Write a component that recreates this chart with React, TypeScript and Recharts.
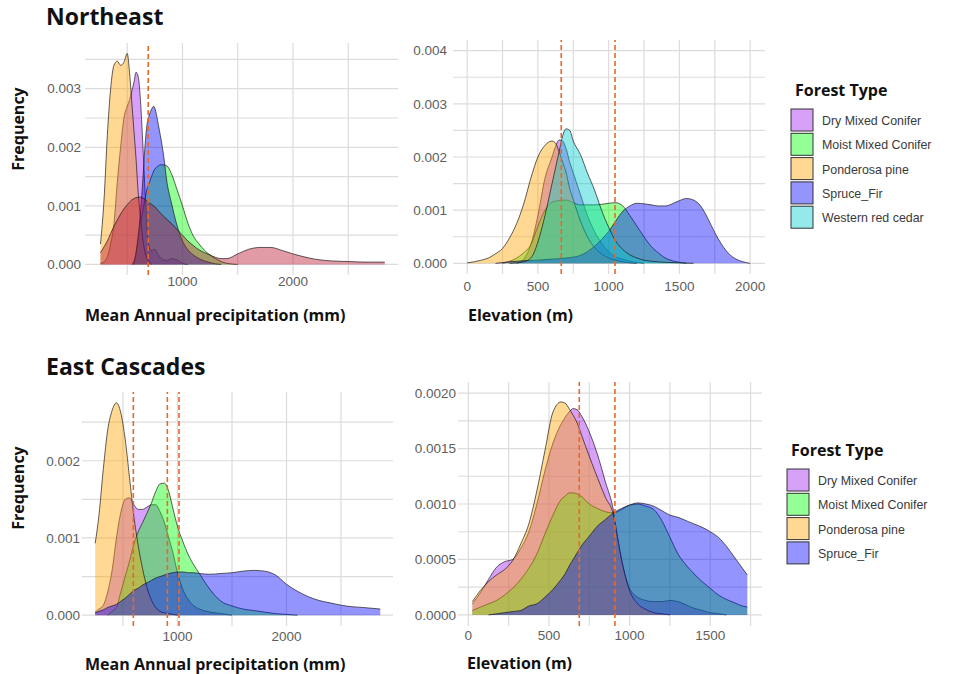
import React from "react";
import { ComposedChart, Area, XAxis, YAxis, CartesianGrid, ReferenceLine } from "recharts";

// forest types, legend order (also the drawing order)
const forestTypes = ["Dry Mixed Conifer", "Moist Mixed Conifer", "Ponderosa pine", "Spruce_Fir", "Western red cedar"];
const typeColors = ["#a020f0", "#00ff00", "#ffa500", "#0000ff", "#00cdcd"];
const cedarPrecipColor = "#b5102a";

type Pt = [number, number];

// ---- Northeast, mean annual precipitation (mm) ----
const neP_dry: Pt[] = [[258, 0.00002], [290, 0.00004], [320, 0.00013], [350, 0.00035], [380, 0.0007], [410, 0.0014], [440, 0.002], [470, 0.0025], [500, 0.0027], [520, 0.0028], [540, 0.00295], [560, 0.0031], [580, 0.00328], [600, 0.0032], [620, 0.0028], [640, 0.0021], [660, 0.0013], [680, 0.0006], [700, 0.0003], [720, 0.00023], [740, 0.00026], [760, 0.00024], [780, 0.00017], [800, 0.00012], [830, 0.00008], [860, 0.00007], [900, 0.0001], [950, 0.00008], [1000, 0.00002], [1050, 0]];
const neP_moist: Pt[] = [[560, 0], [580, 0.0002], [600, 0.00045], [620, 0.0007], [640, 0.0009], [660, 0.0011], [680, 0.0013], [700, 0.0014], [720, 0.0015], [740, 0.0016], [760, 0.00165], [780, 0.00168], [800, 0.0017], [830, 0.0017], [860, 0.00168], [900, 0.00155], [950, 0.00128], [1000, 0.001], [1050, 0.0007], [1100, 0.00048], [1150, 0.00035], [1200, 0.00024], [1250, 0.00016], [1300, 0.0001], [1350, 0.00005], [1400, 0.00002], [1500, 0]];
const neP_pond: Pt[] = [[258, 0.00035], [290, 0.0011], [320, 0.0022], [350, 0.003], [380, 0.0034], [410, 0.00347], [440, 0.0034], [470, 0.00345], [500, 0.0036], [520, 0.0033], [540, 0.0028], [560, 0.0023], [580, 0.0018], [600, 0.0012], [620, 0.0008], [640, 0.00045], [660, 0.00022], [680, 0.0001], [700, 0.00004], [720, 0]];
const neP_spruce: Pt[] = [[540, 0], [560, 0.00005], [580, 0.0002], [600, 0.0005], [620, 0.0009], [640, 0.0014], [660, 0.002], [680, 0.0024], [700, 0.00255], [720, 0.00265], [740, 0.0027], [760, 0.0026], [780, 0.0024], [800, 0.0022], [830, 0.00185], [860, 0.0014], [900, 0.00105], [950, 0.00067], [1000, 0.0004], [1050, 0.00025], [1100, 0.00016], [1150, 0.0001], [1200, 0.00006], [1250, 0.00003], [1300, 0.00001], [1350, 0]];
const neP_cedar: Pt[] = [[258, 0.0002], [290, 0.0003], [320, 0.0004], [350, 0.00053], [380, 0.00065], [410, 0.00076], [440, 0.00086], [470, 0.00095], [500, 0.00102], [540, 0.0011], [580, 0.00114], [620, 0.00115], [660, 0.00111], [700, 0.00105], [740, 0.001], [780, 0.00092], [830, 0.00082], [900, 0.0007], [950, 0.0006], [1000, 0.0005], [1050, 0.0004], [1100, 0.00032], [1150, 0.00025], [1200, 0.0002], [1250, 0.00016], [1300, 0.00012], [1350, 0.0001], [1400, 0.0001], [1500, 0.00018], [1600, 0.00026], [1700, 0.00029], [1800, 0.00029], [1900, 0.00024], [2000, 0.00018], [2100, 0.00013], [2200, 0.00009], [2350, 0.00006], [2500, 0.00005], [2650, 0.00004], [2830, 0.00004]];

// ---- Northeast, elevation (m) ----
const neE_dry: Pt[] = [[350, 0], [400, 0.00008], [450, 0.00035], [500, 0.0009], [550, 0.0016], [600, 0.002], [625, 0.0022], [650, 0.00232], [675, 0.0023], [700, 0.00215], [725, 0.0019], [750, 0.0017], [800, 0.0013], [850, 0.0009], [900, 0.0006], [950, 0.00038], [1000, 0.00022], [1050, 0.00012], [1100, 0.00008], [1150, 0.00004], [1200, 0.00002], [1250, 0]];
const neE_moist: Pt[] = [[250, 0], [300, 0.00004], [350, 0.0001], [400, 0.0002], [450, 0.00035], [500, 0.0007], [550, 0.001], [600, 0.00115], [650, 0.00118], [700, 0.00119], [750, 0.00114], [800, 0.0011], [850, 0.0011], [900, 0.0011], [950, 0.00111], [1000, 0.00113], [1050, 0.00114], [1100, 0.00108], [1150, 0.0009], [1200, 0.0007], [1250, 0.0005], [1300, 0.00032], [1350, 0.0002], [1400, 0.0001], [1450, 0.00005], [1500, 0.00002], [1550, 0]];
const neE_pond: Pt[] = [[0, 0.00001], [50, 0.00003], [100, 0.00006], [150, 0.0001], [200, 0.00018], [250, 0.00028], [300, 0.00048], [350, 0.00075], [400, 0.00112], [450, 0.0016], [500, 0.002], [550, 0.00222], [600, 0.0023], [625, 0.00226], [650, 0.0021], [675, 0.0019], [700, 0.0017], [725, 0.0014], [750, 0.0012], [800, 0.0008], [850, 0.0005], [900, 0.0003], [950, 0.00018], [1000, 0.0001], [1050, 0.00006], [1100, 0.00003], [1150, 0.00001], [1200, 0]];
const neE_spruce: Pt[] = [[200, 0], [300, 0.00003], [400, 0.00005], [500, 0.00006], [600, 0.00008], [700, 0.0001], [800, 0.00015], [850, 0.00022], [900, 0.00032], [950, 0.00045], [1000, 0.0006], [1050, 0.0008], [1100, 0.00098], [1150, 0.00108], [1200, 0.00113], [1250, 0.00112], [1300, 0.0011], [1350, 0.00108], [1400, 0.00108], [1450, 0.00112], [1500, 0.00118], [1550, 0.00122], [1600, 0.00119], [1650, 0.00108], [1700, 0.00085], [1750, 0.00058], [1800, 0.00035], [1850, 0.00018], [1900, 0.00008], [1950, 0.00003], [2000, 0]];
const neE_cedar: Pt[] = [[300, 0], [400, 0.00003], [450, 0.0001], [500, 0.0004], [550, 0.0009], [600, 0.0015], [625, 0.0018], [650, 0.0021], [675, 0.0024], [700, 0.00253], [725, 0.0025], [750, 0.0023], [800, 0.00205], [850, 0.0017], [900, 0.00138], [950, 0.001], [1000, 0.00068], [1050, 0.00042], [1100, 0.00026], [1150, 0.00016], [1200, 0.0001], [1250, 0.00006], [1300, 0.00004], [1400, 0.00002], [1500, 0.00001], [1600, 0]];

// ---- East Cascades, mean annual precipitation (mm) ----
const ecP_dry: Pt[] = [[245, 0.00004], [280, 0.00008], [320, 0.00013], [360, 0.0003], [400, 0.00058], [440, 0.001], [480, 0.00133], [520, 0.0015], [560, 0.00152], [600, 0.00143], [640, 0.00137], [680, 0.00137], [720, 0.0014], [760, 0.00143], [800, 0.00143], [840, 0.00134], [880, 0.0012], [920, 0.001], [960, 0.0008], [1000, 0.00055], [1050, 0.00033], [1100, 0.0002], [1150, 0.00012], [1200, 0.00008], [1300, 0.00004], [1400, 0.00002], [1500, 0]];
const ecP_moist: Pt[] = [[360, 0], [400, 0.00005], [440, 0.0001], [480, 0.0003], [520, 0.0005], [560, 0.0007], [600, 0.00092], [640, 0.00108], [680, 0.0012], [720, 0.00132], [760, 0.00145], [800, 0.0016], [840, 0.0017], [880, 0.00171], [920, 0.0016], [960, 0.00137], [1000, 0.00115], [1050, 0.00095], [1100, 0.00078], [1150, 0.00065], [1200, 0.00054], [1300, 0.00033], [1400, 0.00018], [1500, 0.00012], [1600, 0.00008], [1700, 0.00006], [1800, 0.00004], [1900, 0.00002], [2000, 0.00001], [2100, 0]];
const ecP_pond: Pt[] = [[245, 0.00093], [280, 0.0013], [320, 0.0019], [360, 0.0024], [400, 0.00265], [440, 0.00275], [480, 0.00262], [520, 0.00228], [560, 0.00178], [600, 0.00128], [640, 0.0009], [680, 0.0006], [720, 0.00036], [760, 0.0002], [800, 0.0001], [840, 0.00005], [880, 0.00003], [920, 0.00002], [1000, 0]];
const ecP_spruce: Pt[] = [[245, 0.00003], [280, 0.00005], [320, 0.00007], [360, 0.0001], [400, 0.00012], [440, 0.00014], [480, 0.00018], [520, 0.00022], [560, 0.00027], [600, 0.00032], [640, 0.00035], [680, 0.00039], [720, 0.00042], [760, 0.00045], [800, 0.00048], [840, 0.0005], [880, 0.00052], [920, 0.00054], [960, 0.00055], [1000, 0.00056], [1050, 0.00056], [1100, 0.00055], [1150, 0.00055], [1200, 0.00054], [1300, 0.00053], [1400, 0.00054], [1500, 0.00055], [1600, 0.00057], [1700, 0.00058], [1800, 0.00057], [1900, 0.00052], [2000, 0.0004], [2100, 0.00031], [2200, 0.00024], [2300, 0.00019], [2400, 0.00016], [2500, 0.00013], [2600, 0.00011], [2700, 0.0001], [2860, 0.00008]];

// ---- East Cascades, elevation (m) ----
const ecE_dry: Pt[] = [[25, 0.0001], [75, 0.0002], [125, 0.00032], [175, 0.00043], [225, 0.00048], [275, 0.0005], [325, 0.0006], [375, 0.00075], [425, 0.001], [475, 0.0013], [525, 0.00155], [575, 0.00172], [600, 0.00178], [625, 0.00183], [650, 0.00186], [675, 0.00185], [700, 0.0018], [750, 0.00165], [800, 0.00145], [850, 0.0012], [900, 0.00094], [925, 0.0007], [950, 0.0005], [1000, 0.00024], [1050, 0.00016], [1100, 0.00013], [1150, 0.00012], [1200, 0.00012], [1250, 0.00013], [1300, 0.00012], [1350, 0.00009], [1400, 0.00006], [1450, 0.00004], [1500, 0.00002], [1550, 0.00001], [1600, 0]];
const ecE_moist: Pt[] = [[25, 0.00004], [75, 0.00007], [125, 0.0001], [175, 0.00013], [225, 0.00018], [275, 0.00024], [325, 0.00032], [375, 0.00042], [425, 0.00055], [475, 0.00073], [525, 0.0009], [575, 0.00104], [600, 0.00107], [625, 0.0011], [650, 0.0011], [675, 0.00109], [700, 0.00107], [750, 0.001], [800, 0.00096], [850, 0.00093], [900, 0.00092], [950, 0.00095], [1000, 0.00099], [1050, 0.001], [1100, 0.00098], [1150, 0.00095], [1200, 0.00085], [1250, 0.0007], [1300, 0.00055], [1350, 0.00045], [1400, 0.00037], [1450, 0.0003], [1500, 0.00024], [1550, 0.00018], [1600, 0.00014], [1650, 0.00011], [1700, 0.00008], [1730, 0.00007]];
const ecE_pond: Pt[] = [[25, 0.00012], [75, 0.00022], [125, 0.0003], [175, 0.00036], [225, 0.00041], [275, 0.00049], [325, 0.00064], [375, 0.00082], [425, 0.00112], [475, 0.00148], [525, 0.00183], [575, 0.00192], [600, 0.00191], [625, 0.00186], [650, 0.0018], [675, 0.00173], [700, 0.00163], [750, 0.00143], [800, 0.00124], [850, 0.00106], [900, 0.0009], [925, 0.0007], [950, 0.0005], [1000, 0.00022], [1050, 0.0001], [1100, 0.00005], [1150, 0.00002], [1200, 0.00001], [1250, 0]];
const ecE_spruce: Pt[] = [[125, 0], [175, 0.00001], [225, 0.00002], [275, 0.00003], [325, 0.00004], [375, 0.00008], [425, 0.0001], [475, 0.00016], [525, 0.00023], [575, 0.00032], [600, 0.00037], [625, 0.00044], [650, 0.0005], [675, 0.00056], [700, 0.00062], [750, 0.00071], [800, 0.0008], [850, 0.00086], [900, 0.00092], [950, 0.00096], [1000, 0.00099], [1050, 0.00101], [1100, 0.001], [1150, 0.00098], [1200, 0.00094], [1250, 0.0009], [1300, 0.00088], [1350, 0.00085], [1400, 0.00082], [1450, 0.00079], [1500, 0.00075], [1550, 0.0007], [1600, 0.00062], [1650, 0.00052], [1700, 0.00042], [1730, 0.00036]];

// dashed reference lines
const neP_refs = [690];
const neE_refs = [665, 1045];
const ecP_refs = [595, 907, 1014];
const ecE_refs = [688, 909];

type Series = { key: string; color: string; pts: Pt[] };

function buildRows(series: Series[]) {
  const byX = new Map<number, any>();
  series.forEach((s) => {
    s.pts.forEach(([x, y]) => {
      if (!byX.has(x)) byX.set(x, { x });
      byX.get(x)[s.key] = y;
    });
  });
  return Array.from(byX.values()).sort((a, b) => a.x - b.x);
}

const range = (a: number, b: number, step: number) => {
  const out: number[] = [];
  for (let i = 0; a + i * step <= b + 1e-12; i++) out.push(+(a + i * step).toFixed(6));
  return out;
};

const tickStyle = { fontFamily: "'Liberation Sans', Arial, sans-serif", fontSize: 13.5, fill: "#5e5e5e" };
const boldFont = "'Open Sans', 'DejaVu Sans', sans-serif";

type PanelProps = {
  left: number; top: number; yw: number; pw: number; ph: number;
  xDomain: [number, number]; yDomain: [number, number];
  xTicks: number[]; yTicks: number[]; xGrid: number[]; yGrid: number[];
  series: Series[]; refs: number[]; digits: number; xm: number; ym: number;
};

function Panel(p: PanelProps) {
  const rows = buildRows(p.series);
  return (
    <div style={{ position: "absolute", left: p.left, top: p.top }}>
      <ComposedChart width={p.yw + p.pw + 2} height={10 + p.ph + 26} data={rows} margin={{ top: 10, right: 2, bottom: 0, left: 0 }}>
        <CartesianGrid stroke="#dcdcdc" strokeWidth={1.2} horizontalValues={p.yGrid} verticalValues={p.xGrid} />
        <XAxis type="number" dataKey="x" domain={p.xDomain} ticks={p.xTicks} allowDataOverflow interval={0}
          axisLine={false} tickLine={false} tickSize={0} tickMargin={p.xm} height={26} tick={tickStyle} />
        <YAxis type="number" domain={p.yDomain} ticks={p.yTicks} allowDataOverflow interval={0} width={p.yw}
          axisLine={false} tickLine={false} tickSize={0} tickMargin={p.ym} tick={tickStyle}
          tickFormatter={(v: number) => v.toFixed(p.digits)} />
        {p.series.map((s) => (
          <Area key={s.key} dataKey={s.key} type="monotone" baseValue={0} connectNulls
            fill={s.color} fillOpacity={0.42} stroke="#141414" strokeOpacity={0.75} strokeWidth={0.9}
            dot={false} activeDot={false} isAnimationActive={false} />
        ))}
        {p.refs.map((r) => (
          <ReferenceLine key={r} x={r} stroke="#e8682c" strokeWidth={1.6} strokeDasharray="5 3" />
        ))}
      </ComposedChart>
    </div>
  );
}

function Legend({ x, y, n }: { x: number; y: number; n: number }) {
  return (
    <g>
      <text x={x + 4} y={y} fontFamily={boldFont} fontWeight={700} fontSize={16} fill="#111">Forest Type</text>
      {forestTypes.slice(0, n).map((t, i) => {
        const top = y + 13 + i * 24.3;
        return (
          <g key={t}>
            <rect x={x} y={top} width={22} height={22} fill={typeColors[i]} fillOpacity={0.42} stroke="#333" strokeWidth={1} />
            <text x={x + 31} y={top + 16} fontFamily="'Liberation Sans', Arial, sans-serif" fontSize={12.4} fill="#3a3a3a">{t}</text>
          </g>
        );
      })}
    </g>
  );
}

export default function App() {
  const mk = (keys: Pt[][], colors: string[]): Series[] => keys.map((pts, i) => ({ key: "s" + i, color: colors[i], pts }));
  const precipColors = [typeColors[0], typeColors[1], typeColors[2], typeColors[3], cedarPrecipColor];

  return (
    <div style={{ position: "absolute", left: 0, top: 0, width: 971, height: 674, background: "#fff", overflow: "hidden" }}>
      <svg width={971} height={674} style={{ position: "absolute", left: 0, top: 0 }}>
        <text x={46} y={25} fontFamily={boldFont} fontWeight={700} fontSize={23} fill="#111">Northeast</text>
        <text x={46} y={375} fontFamily={boldFont} fontWeight={700} fontSize={23} fill="#111">East Cascades</text>
        <text x={24} y={129} transform="rotate(-90 24 129)" textAnchor="middle" fontFamily={boldFont} fontWeight={700} fontSize={16} fill="#111">Frequency</text>
        <text x={24} y={488} transform="rotate(-90 24 488)" textAnchor="middle" fontFamily={boldFont} fontWeight={700} fontSize={16} fill="#111">Frequency</text>
        <text x={85} y={321} fontFamily={boldFont} fontWeight={700} fontSize={16} fill="#111">Mean Annual precipitation (mm)</text>
        <text x={85} y={670} fontFamily={boldFont} fontWeight={700} fontSize={16} fill="#111">Mean Annual precipitation (mm)</text>
        <text x={468} y={321} fontFamily={boldFont} fontWeight={700} fontSize={16} fill="#111">Elevation (m)</text>
        <text x={467} y={669} fontFamily={boldFont} fontWeight={700} fontSize={16} fill="#111">Elevation (m)</text>
        <Legend x={791} y={96} n={5} />
        <Legend x={787} y={456} n={4} />
      </svg>

      <Panel left={30} top={33} yw={55} pw={313} ph={232} xDomain={[118, 2950]} yDomain={[-0.00018, 0.00378]}
        xTicks={[1000, 2000]} yTicks={[0, 0.001, 0.002, 0.003]} xGrid={range(500, 2500, 500)} yGrid={range(0, 0.0035, 0.0005)}
        series={mk([neP_dry, neP_moist, neP_pond, neP_spruce, neP_cedar], precipColors)} refs={neP_refs} digits={3} xm={1} ym={4} />

      <Panel left={400} top={30} yw={53} pw={312} ph={234} xDomain={[-100, 2105]} yDomain={[-0.0002, 0.0042]}
        xTicks={[0, 500, 1000, 1500, 2000]} yTicks={[0, 0.001, 0.002, 0.003, 0.004]} xGrid={range(0, 2000, 250)} yGrid={range(0, 0.004, 0.0005)}
        series={mk([neE_dry, neE_moist, neE_pond, neE_spruce, neE_cedar], typeColors)} refs={neE_refs} digits={3} xm={7} ym={6} />

      <Panel left={30} top={382} yw={52} pw={311} ph={234} xDomain={[124, 2977]} yDomain={[-0.00014, 0.00289]}
        xTicks={[1000, 2000]} yTicks={[0, 0.001, 0.002]} xGrid={range(500, 2500, 500)} yGrid={range(0, 0.0025, 0.0005)}
        series={mk([ecP_dry, ecP_moist, ecP_pond, ecP_spruce], typeColors)} refs={ecP_refs} digits={3} xm={5} ym={2} />

      <Panel left={400} top={372} yw={58} pw={304} ph={244} xDomain={[-64, 1821]} yDomain={[-0.0001, 0.0021]}
        xTicks={[0, 500, 1000, 1500]} yTicks={[0, 0.0005, 0.001, 0.0015, 0.002]} xGrid={range(0, 1750, 250)} yGrid={range(0, 0.002, 0.00025)}
        series={mk([ecE_dry, ecE_moist, ecE_pond, ecE_spruce], typeColors)} refs={ecE_refs} digits={4} xm={4} ym={2} />
    </div>
  );
}
